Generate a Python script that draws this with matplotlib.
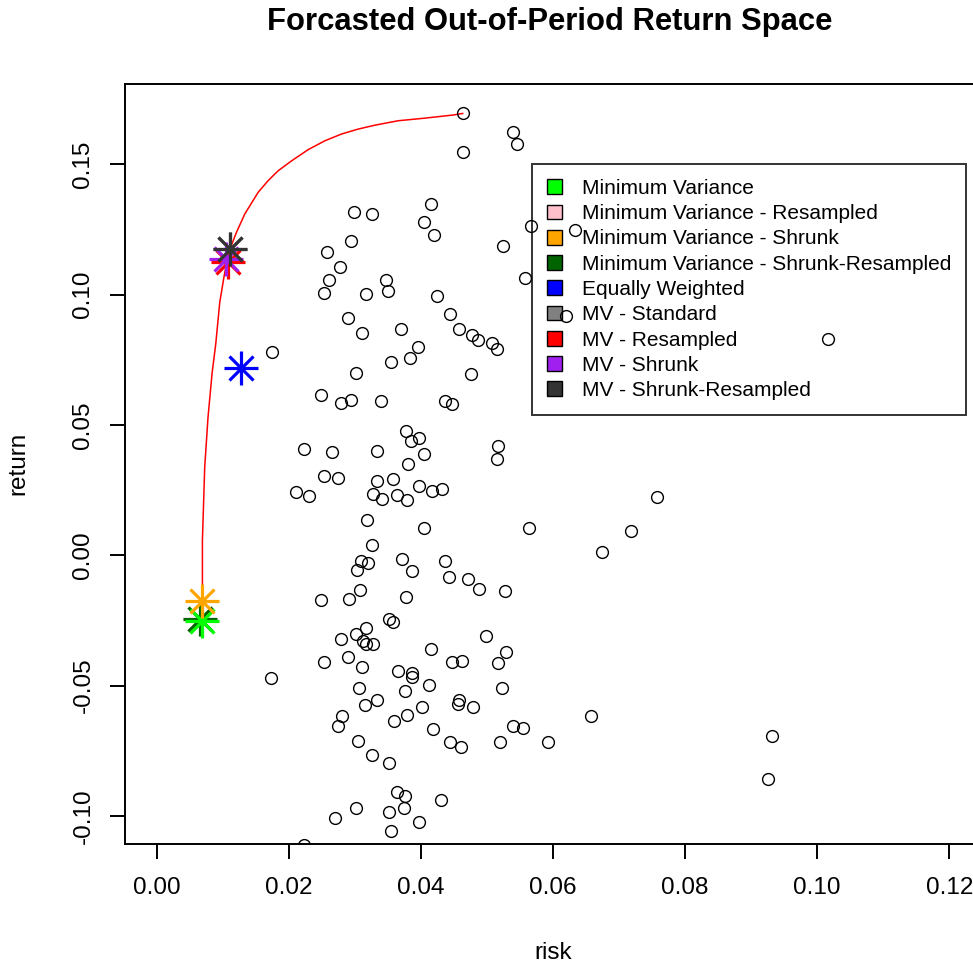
import numpy as np
import matplotlib
matplotlib.use("Agg")
import matplotlib.pyplot as plt
from matplotlib.patches import Patch

plt.rcParams['font.family'] = ['Liberation Sans', 'DejaVu Sans']

# simulated assets (risk, return)
risk = [0.02985, 0.03253, 0.04045, 0.02939, 0.02576, 0.02773, 0.02602, 0.03474, 0.0253, 0.03162,
        0.035, 0.02894, 0.03111, 0.03692, 0.03959, 0.04632, 0.05394, 0.05459, 0.04632, 0.04152,
        0.04202, 0.05662, 0.06338, 0.05247, 0.0558, 0.04247, 0.04444, 0.04571, 0.04777, 0.04868,
        0.05076, 0.06192, 0.10171, 0.03833, 0.03541, 0.03011, 0.01753, 0.0248, 0.02792, 0.02939,
        0.03394, 0.03768, 0.03848, 0.0397, 0.04053, 0.02232, 0.02647, 0.03329, 0.03808, 0.02526,
        0.02742, 0.03329, 0.03571, 0.0397, 0.02111, 0.02308, 0.03273, 0.03405, 0.03641, 0.03788,
        0.03186, 0.04053, 0.03253, 0.03086, 0.03192, 0.03035, 0.03717, 0.03859, 0.03083, 0.0248,
        0.02909, 0.03768, 0.05147, 0.04758, 0.04364, 0.04474, 0.05171, 0.05147, 0.04171, 0.04323,
        0.05636, 0.07571, 0.07182, 0.06742, 0.04368, 0.04424, 0.04717, 0.04879, 0.05273, 0.03515,
        0.03571, 0.03162, 0.03011, 0.02792, 0.03126, 0.03162, 0.03277, 0.02526, 0.02894, 0.03111,
        0.03647, 0.03859, 0.03859, 0.01723, 0.03065, 0.03762, 0.03329, 0.03152, 0.04023, 0.02798,
        0.02738, 0.03788, 0.03591, 0.03041, 0.03253, 0.0352, 0.03641, 0.03762, 0.03011, 0.02692,
        0.0352, 0.03738, 0.0397, 0.03541, 0.02232, 0.04126, 0.0498, 0.04152, 0.04465, 0.04617,
        0.05292, 0.05171, 0.05223, 0.0458, 0.04565, 0.04783, 0.06576, 0.04177, 0.05389, 0.05541,
        0.04444, 0.04611, 0.05192, 0.05924, 0.04298, 0.09323, 0.09253]
ret = [0.1315, 0.1309, 0.1278, 0.1206, 0.1162, 0.1106, 0.1057, 0.1057, 0.1008, 0.1001,
       0.1014, 0.0911, 0.0854, 0.0867, 0.0797, 0.1695, 0.1622, 0.1577, 0.1548, 0.1346,
       0.1229, 0.1264, 0.1248, 0.1185, 0.1062, 0.0995, 0.0927, 0.0867, 0.0846, 0.0824,
       0.0816, 0.0917, 0.083, 0.0756, 0.0743, 0.07, 0.078, 0.0616, 0.0585, 0.0597,
       0.059, 0.0475, 0.0438, 0.045, 0.0389, 0.0406, 0.0395, 0.0401, 0.0351, 0.0303,
       0.0296, 0.0284, 0.0291, 0.0266, 0.0241, 0.0229, 0.0235, 0.0215, 0.023, 0.021,
       0.0135, 0.0106, 0.0038, -0.0022, -0.003, -0.0055, -0.0016, -0.006, -0.0134, -0.0172,
       -0.0169, -0.0161, 0.0792, 0.0695, 0.0593, 0.0579, 0.0419, 0.0369, 0.0246, 0.0254,
       0.0106, 0.0223, 0.0093, 0.0014, -0.0022, -0.0084, -0.0091, -0.013, -0.0136, -0.0243,
       -0.0258, -0.0281, -0.0304, -0.0323, -0.0328, -0.0341, -0.0342, -0.0409, -0.0391, -0.0428,
       -0.0446, -0.0453, -0.0466, -0.0471, -0.0508, -0.052, -0.0557, -0.0576, -0.0581, -0.0617,
       -0.0655, -0.0612, -0.0636, -0.0711, -0.0766, -0.0796, -0.0907, -0.0925, -0.0968, -0.1007,
       -0.0987, -0.0968, -0.1023, -0.106, -0.1111, -0.0497, -0.0311, -0.036, -0.041, -0.0405,
       -0.0373, -0.0415, -0.0508, -0.0556, -0.057, -0.0581, -0.0618, -0.0668, -0.0655, -0.0662,
       -0.0716, -0.0736, -0.0718, -0.0718, -0.0938, -0.0693, -0.0858]

# efficient frontier
frontier_risk = [0.00692, 0.00692, 0.00727, 0.00777, 0.00838, 0.00894, 0.00955, 0.0103, 0.0111,
                 0.01208, 0.01333, 0.01535, 0.01686, 0.01838, 0.02041, 0.02292, 0.02545,
                 0.02798, 0.0305, 0.03303, 0.03656, 0.04061, 0.04489, 0.04632]
frontier_ret = [-0.0172, 0.0057, 0.0338, 0.053, 0.0697, 0.0811, 0.0971, 0.1085, 0.1175,
                0.1239, 0.1309, 0.1392, 0.1437, 0.1475, 0.1513, 0.1556, 0.159,
                0.1616, 0.1635, 0.165, 0.1667, 0.1677, 0.1689, 0.1695]

# portfolios
port_names = ["Minimum Variance", "Minimum Variance - Resampled", "Minimum Variance - Shrunk",
              "Minimum Variance - Shrunk-Resampled", "Equally Weighted", "MV - Standard",
              "MV - Resampled", "MV - Shrunk", "MV - Shrunk-Resampled"]
port_cols = ["#00FF00", "#FFC0CB", "#FFA500", "#006400", "#0000FF", "#808080",
             "#FF0000", "#A020F0", "#333333"]
port_risk = [0.00692, 0.0066, 0.00692, 0.0066, 0.01277, 0.0111, 0.0108, 0.01056, 0.0111]
port_ret = [-0.0252, -0.0246, -0.0174, -0.0246, 0.0719, 0.1175, 0.1125, 0.1137, 0.1175]
draw_order = [1, 3, 0, 2, 4, 5, 6, 7, 8]

fig = plt.figure(figsize=(9.73, 9.67), dpi=100)
ax = fig.add_axes([125 / 973, 1 - 844 / 967, 856 / 973, 760 / 967])

ax.plot(frontier_risk, frontier_ret, color="red", lw=1.1, zorder=2)
ax.plot(risk, ret, "o", ms=8.5, mfc="none", mec="black", mew=1.0, zorder=3)

# asterisk markers: a plus with a cross on top
for i in draw_order:
    ax.plot(port_risk[i], port_ret[i], marker="+", ms=24, mew=2.3, color=port_cols[i], zorder=4)
    ax.plot(port_risk[i], port_ret[i], marker="x", ms=17, mew=2.3, color=port_cols[i], zorder=4)

ax.set_xlim(-0.0048, 0.1248)
ax.set_ylim(-0.1108, 0.1808)
ax.set_xticks(np.arange(0, 0.121, 0.02))
ax.set_yticks([-0.10, -0.05, 0.00, 0.05, 0.10, 0.15])
ax.xaxis.set_major_formatter(plt.FormatStrFormatter("%.2f"))
ax.yaxis.set_major_formatter(plt.FormatStrFormatter("%.2f"))
ax.tick_params(length=11, width=1.4, labelsize=17.5)
ax.tick_params(axis="x", pad=13)
ax.tick_params(axis="y", pad=11)
plt.setp(ax.get_yticklabels(), rotation=90, va="center")
for s in ax.spines.values():
    s.set_linewidth(1.4)

handles = [Patch(facecolor=c, edgecolor="black", lw=1.0) for c in port_cols]
leg = ax.legend(handles, port_names, loc="upper left",
                bbox_to_anchor=(532 / 973, 1 - 164 / 967), bbox_transform=fig.transFigure,
                fontsize=15, handlelength=0.72, handleheight=0.72, handletextpad=0.95,
                labelspacing=0.3, borderpad=0.72, borderaxespad=0, fancybox=False)
leg.get_frame().set_facecolor("none")
leg.get_frame().set_edgecolor("black")
leg.get_frame().set_linewidth(1.4)
leg.set_zorder(1)

fig.text(550 / 973, 1 - 22 / 967, "Forcasted Out-of-Period Return Space",
         ha="center", va="center", fontsize=22.3, fontweight="bold")
fig.text(553 / 973, 1 - 953 / 967, "risk", ha="center", va="center", fontsize=17.5)
fig.text(18 / 973, 1 - 463 / 967, "return", ha="center", va="center", fontsize=17.5, rotation=90)

fig.savefig("out.png", dpi=100)
